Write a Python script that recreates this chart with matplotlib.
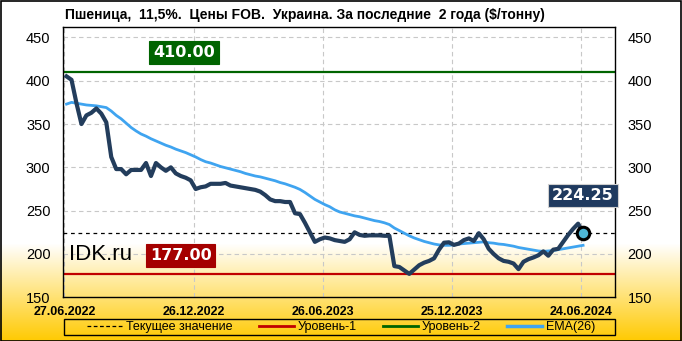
import numpy as np
import matplotlib
matplotlib.use("Agg")
import matplotlib.pyplot as plt
import matplotlib.dates as mdates
import matplotlib.patches as mpatches
from matplotlib.lines import Line2D
from datetime import datetime, timedelta

plt.rcParams['font.family'] = ['Liberation Sans', 'DejaVu Sans']

# weekly FOB prices, wheat 11.5%, Ukraine ($/t)
start = datetime(2022, 6, 30)
price = [405, 401, 374, 350, 360, 363, 368, 362, 352, 312,
         298, 298, 292, 297, 297, 297, 305, 290, 305, 300,
         296, 300, 293, 290, 288, 285, 275, 277, 278, 281,
         281, 281, 282, 279, 278, 277, 276, 275, 274, 272,
         268, 263, 261, 261, 260, 260, 247, 246, 236, 225,
         214, 217, 219, 218, 216, 215, 214, 217, 225, 222,
         221, 221.5, 221.5, 221.5, 221, 221, 186, 185, 181, 177,
         182, 187, 190, 192, 195, 205, 213, 213.5, 210.5, 212,
         216, 218, 215, 224, 217, 206, 200, 195, 192, 191,
         189, 182.5, 191, 194, 196, 198.5, 203, 198, 205, 206,
         214, 222, 229, 235, 224.25]
ema = [373, 375, 374, 373, 372, 371.5, 371, 370, 369, 365,
       360, 356, 351, 346, 342, 338.5, 336, 333, 330.5, 328,
       325.5, 323.5, 321, 319, 317, 314.5, 312, 309, 306.5, 305,
       303, 301, 299.5, 298, 296.5, 295, 293, 291.5, 290, 289,
       287.5, 286, 284.5, 282.5, 281, 279, 277, 274.5, 271, 267,
       263, 260, 257, 254.5, 251, 248.5, 247, 245.5, 244, 243,
       241.5, 240, 238.5, 237.5, 236, 234, 230, 227, 224, 221,
       218.5, 216.5, 214.5, 213, 211.5, 210.5, 210, 210, 210.5, 211.5,
       212, 212.5, 213, 213.5, 214, 213, 212.5, 211.5, 211, 210,
       209, 207.5, 206.5, 205.5, 204.5, 203.5, 203, 203.5, 204, 205,
       206, 207, 208, 209, 210]
dates = [start + timedelta(weeks=i) for i in range(len(price))]

level1 = 177.0
level2 = 410.0
current = price[-1]
tick_dates = [datetime(2022, 6, 27), datetime(2022, 12, 26), datetime(2023, 6, 26),
              datetime(2023, 12, 25), datetime(2024, 6, 24)]
title = "Пшеница,  11,5%.  Цены FOB.  Украина. За последние  2 года ($/тонну)"

W, H = 682, 341
fig = plt.figure(figsize=(W / 100, H / 100), dpi=100)

# background: white top, yellow gradient at the bottom
bg = fig.add_axes([0, 0, 1, 1])
bg.set_axis_off()
rows = np.arange(H)
t = np.clip((rows - 243) / (H - 243), 0, 1)
top = np.array([1.0, 1.0, 1.0])
bot = np.array([1.0, 0.79, 0.0])
grad = top[None, :] * (1 - t[:, None]) + bot[None, :] * t[:, None]
img = np.repeat(grad[:, None, :], 4, axis=1)
bg.imshow(img, aspect='auto', extent=[0, 1, 0, 1], origin='upper')
bg.set_xlim(0, 1)
bg.set_ylim(0, 1)

ax = fig.add_axes([63 / W, (H - 297.3) / H, (615 - 63) / W, (297.3 - 27) / H])
ax.set_facecolor('none')

ax.axhline(level2, color='#006400', lw=1.6, zorder=2)
ax.axhline(level1, color='#C00000', lw=1.6, zorder=2)
ax.axhline(current, color='black', lw=0.9, ls=(0, (3, 3)), zorder=2)
ax.plot(dates, ema, color='#3FA4F0', lw=2.0, zorder=3)
ax.plot(dates, price, color='#233D5C', lw=3.0, zorder=4, solid_joinstyle='round')
ax.plot(dates[-1], price[-1], 'o', ms=9, mfc='#4DB6D6', mec='black', mew=2.2, zorder=5)

ax.set_ylim(150, 462)
ax.set_xlim(datetime(2022, 6, 25), datetime(2024, 8, 11))
ax.set_yticks(range(150, 451, 50))
ax.set_xticks(tick_dates)
ax.xaxis.set_major_formatter(mdates.DateFormatter('%d.%m.%Y'))
ax.grid(True, color='#C8C8C8', ls=(0, (4, 3)), lw=0.8)
ax.set_axisbelow(True)
ax.tick_params(axis='y', length=0, pad=9, labelsize=10.5, labelright=True)
ax.tick_params(axis='x', length=0, pad=6, labelsize=9)
for lab in ax.get_xticklabels():
    lab.set_fontweight('bold')
for sp in ax.spines.values():
    sp.set_color('black')
    sp.set_linewidth(1)

box = dict(boxstyle='square,pad=0.25', lw=0.8)
ax.text(0.219, 432, '%.2f' % level2, transform=ax.get_yaxis_transform(), ha='center', va='center',
        color='white', fontsize=11.5, fontweight='bold', family='DejaVu Sans',
        bbox=dict(box, fc='#006400', ec='#006400'), zorder=6)
ax.text(0.213, 198, '%.2f' % level1, transform=ax.get_yaxis_transform(), ha='center', va='center',
        color='white', fontsize=11.5, fontweight='bold', family='DejaVu Sans',
        bbox=dict(box, fc='#A50000', ec='#A50000'), zorder=6)
ax.text(dates[-1], 268, '%.2f' % current, ha='center', va='center',
        color='white', fontsize=11.5, fontweight='bold', family='DejaVu Sans',
        bbox=dict(box, fc='#1F3A5F', ec='#D0D0D0'), zorder=6)
ax.text(0.01, 199, 'IDK.ru', transform=ax.get_yaxis_transform(), ha='left', va='center',
        fontsize=16, color='black', zorder=6)

fig.text(65 / W, 1 - 15 / H, title, ha='left', va='center', fontsize=10, fontweight='bold')

handles = [Line2D([], [], color='black', lw=0.9, ls=(0, (3, 2))),
           Line2D([], [], color='#C00000', lw=2),
           Line2D([], [], color='#006400', lw=2),
           Line2D([], [], color='#3FA4F0', lw=2.5)]
labels = ['Текущее значение', 'Уровень-1', 'Уровень-2', 'EMA(26)']
fig.legend(handles, labels, loc='center', bbox_to_anchor=(341 / W, 1 - 327 / H), ncol=4,
           frameon=False, fontsize=9, handlelength=2.8, handletextpad=0.3, columnspacing=2.1)
fig.patches.append(mpatches.Rectangle((64 / W, 1 - 335 / H), (615 - 64) / W, 16 / H,
                                      transform=fig.transFigure, fill=False, ec='black', lw=1))
fig.patches.append(mpatches.Rectangle((0.5 / W, 0.5 / H), 1 - 1.5 / W, 1 - 1.5 / H,
                                      transform=fig.transFigure, fill=False, ec='black', lw=1.2))

fig.savefig('out.png', dpi=100)
